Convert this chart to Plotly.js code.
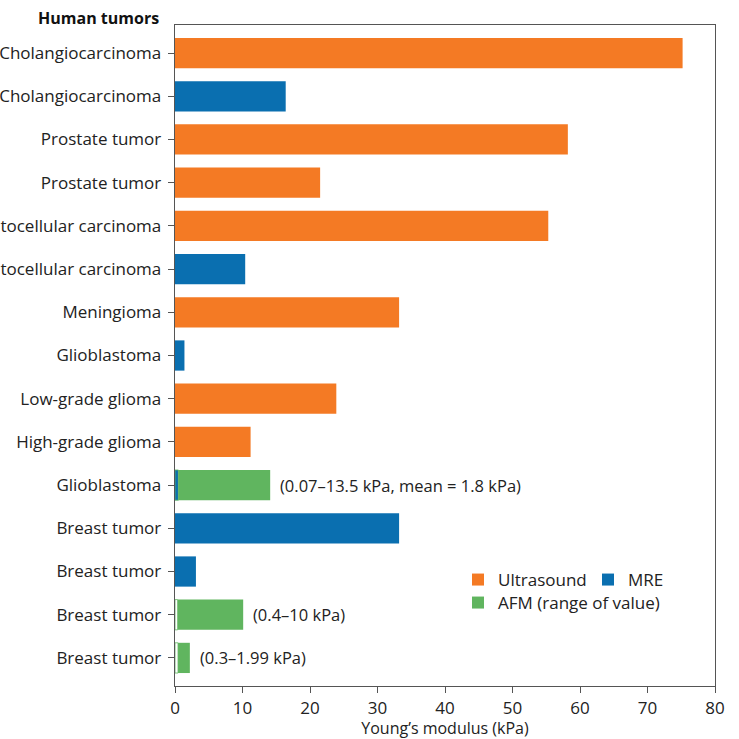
<!DOCTYPE html>
<html>
<head>
<meta charset="utf-8">
<script src="https://cdn.plot.ly/plotly-3.0.1.min.js"></script>
<style>html,body{margin:0;padding:0;background:#fff;}#chart{width:739px;height:739px;}</style>
</head>
<body>
<div id="chart"></div>
<script>
// Row labels, top to bottom
const categories = ['Cholangiocarcinoma','Cholangiocarcinoma','Prostate tumor','Prostate tumor',
  'Hepatocellular carcinoma','Hepatocellular carcinoma','Meningioma','Glioblastoma',
  'Low-grade glioma','High-grade glioma','Glioblastoma','Breast tumor','Breast tumor',
  'Breast tumor','Breast tumor'];

// Ultrasound (row index, kPa)
const usRows = [0, 2, 3, 4, 6, 8, 9];
const usValues = [75.2, 58.2, 21.5, 55.3, 33.2, 23.9, 11.2];

// MRE (row index, kPa)
const mreRows = [1, 5, 7, 11, 12];
const mreValues = [16.4, 10.4, 1.4, 33.2, 3.1];

// AFM range bars (row index, low, high as drawn, kPa)
const afmRows = [10, 13, 14];
const afmLow = [0.5, 0.4, 0.45];
const afmHigh = [14.1, 10.1, 2.2];
const afmLabels = ['(0.07–13.5 kPa, mean = 1.8 kPa)', '(0.4–10 kPa)', '(0.3–1.99 kPa)'];
const afmLowColors = ['#0a6fb0', '#ffffff', '#ffffff'];

const xTicks = [0,10,20,30,40,50,60,70,80];

const ORANGE = '#f47a24', BLUE = '#0a6fb0', GREEN = '#60b55f';
const FONT = '"Open Sans", Roboto, sans-serif';

const traces = [
  {type:'bar', orientation:'h', name:'Ultrasound', y:usRows, x:usValues, width:0.7,
   marker:{color:ORANGE}, legend:'legend'},
  {type:'bar', orientation:'h', name:'MRE', y:mreRows, x:mreValues, width:0.7,
   marker:{color:BLUE}, legend:'legend'},
  {type:'bar', orientation:'h', name:'AFM low', y:afmRows, x:afmLow, width:0.7,
   marker:{color:afmLowColors, line:{color:GREEN, width:0.8}}, showlegend:false},
  {type:'bar', orientation:'h', name:'AFM (range of value)', y:afmRows,
   base:afmLow, x:afmHigh.map((h,i)=>h-afmLow[i]), width:0.7,
   marker:{color:GREEN}, legend:'legend2'}
];

const W=739, H=739, mL=175, mR=24, mT=25, mB=53;
const PW = W-mL-mR, PH = H-mT-mB;
const px = v => (v-mL)/PW;
const py = v => (H-mB-v)/PH;

const annotations = afmRows.map((r,i)=>({
  x:afmHigh[i], y:r, xref:'x', yref:'y', text:afmLabels[i], showarrow:false,
  xanchor:'left', yanchor:'middle', xshift:8, font:{size:16.5, color:'#222', family:FONT}
}));
annotations.push({x:px(161), y:py(18), xref:'paper', yref:'paper', text:'<b>Human tumors</b>',
  xanchor:'right', yanchor:'middle', showarrow:false, font:{size:16, color:'#111', family:FONT}});

const layout = {
  width:W, height:H, margin:{l:mL, r:mR, t:mT, b:mB, autoexpand:false},
  paper_bgcolor:'#fff', plot_bgcolor:'#fff',
  barmode:'overlay', showlegend:true,
  font:{family:FONT, size:16, color:'#222'},
  xaxis:{range:[0,80], tickvals:xTicks, ticktext:xTicks.map(String), automargin:false,
    ticks:'outside', ticklen:6, tickcolor:'#555', showline:true, linecolor:'#555', linewidth:1.3,
    mirror:true, showgrid:false, zeroline:false, tickfont:{size:17, color:'#222'},
    title:{text:'Young’s modulus (kPa)', font:{size:16, color:'#222'}, standoff:4}},
  yaxis:{range:[14.65,-0.65], tickvals:categories.map((c,i)=>i), ticktext:categories,
    ticks:'outside', ticklen:6, tickcolor:'#555', showline:true, linecolor:'#555', linewidth:1.3,
    mirror:true, showgrid:false, zeroline:false, automargin:false, ticklabelstandoff:3,
    tickfont:{size:17, color:'#222'}},
  legend:{orientation:'h', x:px(458), y:py(580), xanchor:'left', yanchor:'middle',
    font:{size:17, color:'#222'}, itemwidth:30, entrywidth:85, bgcolor:'rgba(0,0,0,0)',
    borderwidth:0},
  legend2:{orientation:'h', x:px(458), y:py(603), xanchor:'left', yanchor:'middle',
    font:{size:17, color:'#222'}, itemwidth:30, bgcolor:'rgba(0,0,0,0)', borderwidth:0},
  annotations:annotations
};

Plotly.newPlot('chart', traces, layout, {displayModeBar:false, staticPlot:true});
</script>
</body>
</html>
